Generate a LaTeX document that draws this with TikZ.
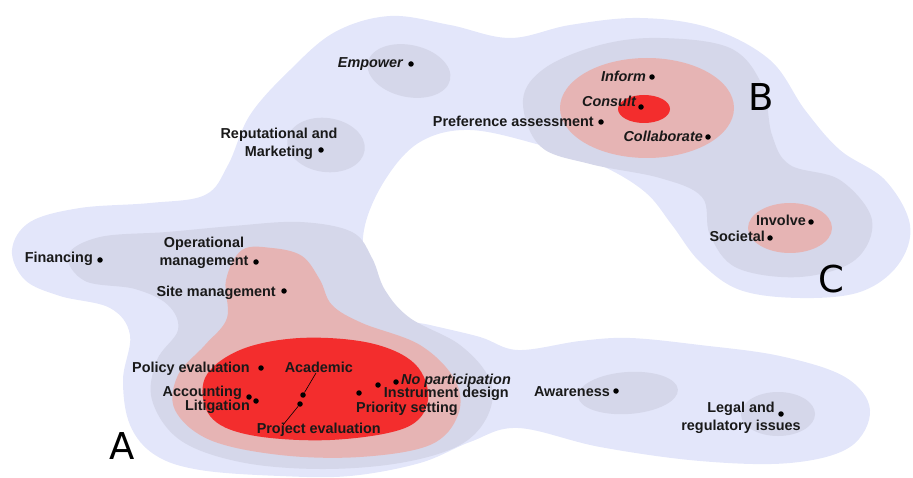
\documentclass[tikz,border=0pt]{standalone}
\usepackage{fontspec}
\setmainfont{Liberation Sans}
\newfontfamily\letterfont{DejaVu Sans}
\definecolor{lav}{RGB}{227,230,250}
\definecolor{gry}{RGB}{213,215,234}
\definecolor{pnk}{RGB}{230,180,180}
\definecolor{rd}{RGB}{243,45,45}
\begin{document}
\begin{tikzpicture}[x=1pt,y=-1pt,
  lbl/.style={font=\fontsize{14.4}{18}\selectfont\bfseries, inner sep=0pt, anchor=base east, text=black!90},
  ilbl/.style={lbl, font=\fontsize{14.4}{18}\selectfont\bfseries\itshape},
  mlbl/.style={font=\fontsize{14.4}{18}\selectfont\bfseries, inner sep=0pt, align=center, anchor=center, text=black!90},
  dotpt/.style={circle, fill=black, inner sep=0pt, minimum size=5.5pt},
  bigletter/.style={font=\letterfont\fontsize{37}{40}\selectfont, inner sep=0pt},
  leader/.style={draw=black, line width=0.6pt}]
\useasboundingbox (0,0) rectangle (913,478);
% outer lavender region
\fill[lav] plot[smooth cycle, tension=0.6] coordinates {
  (12,250) (30,222) (80,208) (150,203) (205,195) (228,165) (250,115) (290,70)
  (335,32) (390,16) (450,25) (510,38) (570,25) (640,18) (710,28) (770,60)
  (805,110) (840,150) (885,180) (910,225) (898,265) (860,292) (800,298)
  (740,290) (700,262) (672,225) (645,192) (600,165) (540,145) (470,130)
  (420,142) (385,180) (364,230) (367,280) (388,315) (430,325) (480,337)
  (518,350) (580,341) (630,338) (700,345) (780,356) (845,377) (870,410)
  (850,447) (790,463) (700,461) (600,447) (518,428) (470,442) (420,463)
  (350,476) (280,476) (200,470) (155,455) (130,425) (123,380) (130,335)
  (110,308) (60,296) (25,280)};
% gray level
\fill[gry] plot[smooth cycle, tension=0.6] coordinates {
  (68,255) (100,237) (167,232) (233,226) (300,222) (352,232) (372,258)
  (385,290) (410,318) (460,345) (490,380) (488,415) (460,445) (400,463)
  (320,469) (240,462) (180,440) (152,400) (157,360) (178,330) (168,305)
  (135,289) (85,281)};
\fill[gry] plot[smooth cycle, tension=0.6] coordinates {
  (523,100) (545,68) (600,45) (660,38) (730,48) (762,85) (772,135)
  (790,165) (840,180) (872,220) (855,260) (800,277) (737,268) (710,235)
  (702,197) (660,178) (590,164) (540,146)};
\fill[gry, rotate around={-12:(409,71)}] (409,71) ellipse [x radius=42, y radius=26];
\fill[gry, rotate around={-8:(326,145)}] (326,145) ellipse [x radius=39, y radius=27];
\fill[gry, rotate around={4:(628,393)}] (628,393) ellipse [x radius=50, y radius=21];
\fill[gry] (778,414) ellipse [x radius=37, y radius=22];
% pink level
\fill[pnk] plot[smooth cycle, tension=0.6] coordinates {
  (242,250) (272,248) (302,256) (320,280) (332,305) (362,323) (420,345)
  (455,380) (458,415) (430,445) (360,457) (280,455) (210,440) (175,410)
  (178,375) (205,345) (227,318) (226,280)};
\fill[pnk] (647,108) ellipse [x radius=87, y radius=50];
\fill[pnk] (790,228) ellipse [x radius=42, y radius=25];
% red level
\fill[rd] plot[smooth cycle, tension=0.6] coordinates {
  (205,378) (240,350) (300,338) (370,343) (415,364) (428,400) (405,428)
  (330,440) (250,435) (210,416)};
\fill[rd] (644,109) ellipse [x radius=26, y radius=14];
% labels and points
\node[ilbl] (emp) at (403,68) {Empower};
\node[dotpt] (empD) at (411,64) {};
\node[mlbl] (rep) at (279,144) {Reputational and\\Marketing};
\node[dotpt] (repD) at (321,150) {};
\node[lbl] (pref) at (594,127) {Preference assessment};
\node[dotpt] (prefD) at (601,122) {};
\node[ilbl] (inf) at (646,82) {Inform};
\node[dotpt] (infD) at (652,77) {};
\node[ilbl] (cons) at (636,107) {Consult};
\node[dotpt] (consD) at (641,107) {};
\node[ilbl] (coll) at (703,142) {Collaborate};
\node[dotpt] (collD) at (708,137) {};
\node[lbl] (inv) at (806,226) {Involve};
\node[dotpt] (invD) at (811,222) {};
\node[lbl] (soc) at (765,242) {Societal};
\node[dotpt] (socD) at (770,238) {};
\node[lbl] (fin) at (93,263) {Financing};
\node[dotpt] (finD) at (100,260) {};
\node[mlbl] (oper) at (204,253) {Operational\\management};
\node[dotpt] (operD) at (256,262) {};
\node[lbl] (site) at (276,297) {Site management};
\node[dotpt] (siteD) at (284,291) {};
\node[lbl] (pol) at (250,372) {Policy evaluation};
\node[dotpt] (polD) at (261,368) {};
\node[lbl] (acad) at (353,372) {Academic};
\node[dotpt] (acadD) at (303,395) {};
\node[lbl] (acc) at (242,396.5) {Accounting};
\node[dotpt] (accD) at (249,397) {};
\node[lbl] (lit) at (250,410.5) {Litigation};
\node[dotpt] (litD) at (256,401) {};
\node[ilbl] (nop) at (511,384) {No participation};
\node[dotpt] (nopD) at (396,382) {};
\node[lbl] (instr) at (509,397) {Instrument design};
\node[dotpt] (instrD) at (378,385) {};
\node[lbl] (prio) at (458,412) {Priority setting};
\node[dotpt] (prioD) at (359,393) {};
\node[lbl] (proj) at (381,433) {Project evaluation};
\node[dotpt] (projD) at (300,404) {};
\node[lbl] (aware) at (610,396) {Awareness};
\node[dotpt] (awareD) at (616,391) {};
\node[mlbl] (legal) at (741,418) {Legal and\\regulatory issues};
\node[dotpt] (legalD) at (781,414) {};
% leader lines
\coordinate (acadL) at (316,373);
\coordinate (projL) at (283,425);
\draw[leader] (acadL) -- (acadD);
\draw[leader] (projD) -- (projL);
% cluster letters
\node[bigletter] (lA) at (122,446) {A};
\node[bigletter] (lB) at (761,97) {B};
\node[bigletter] (lC) at (831,279) {C};
\end{tikzpicture}
\end{document}
